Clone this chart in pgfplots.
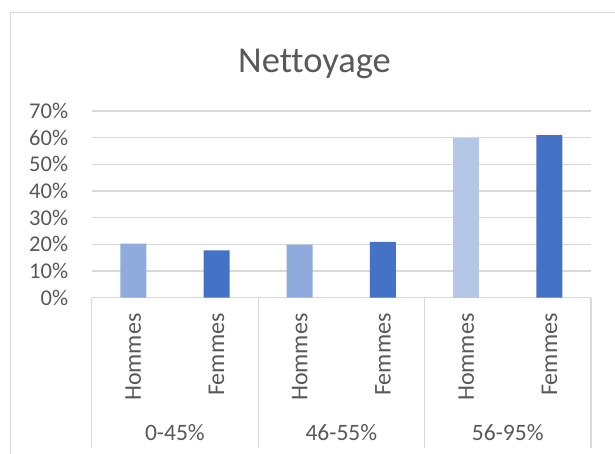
\documentclass[border=0pt]{standalone}
\usepackage{pgfplots}
\pgfplotsset{compat=1.18}
\usepackage{fontspec}
\setmainfont[Ligatures=NoCommon]{Carlito}
\definecolor{txt}{HTML}{595959}
\definecolor{gridc}{HTML}{D9D9D9}
\definecolor{hom}{HTML}{8FAADC}
\definecolor{homl}{HTML}{B4C7E7}
\definecolor{fem}{HTML}{4472C4}
\begin{document}
\begin{tikzpicture}[x=1pt,y=1pt]
\useasboundingbox (0,0) rectangle (615,454);
\fill[white] (0,0) rectangle (615,454);
\draw[gridc, line width=1pt] (10,0) -- (10,441.3) -- (615,441.3);
\node[anchor=base, text=txt, font=\fontsize{36.5}{40}\selectfont, inner sep=0pt] at (314.5,381.7) {Nettoyage};
\begin{axis}[
  at={(91.7pt,156.3pt)}, anchor=south west,
  width=499.3pt, height=186.7pt, scale only axis,
  xmin=-0.5, xmax=5.5, ymin=0, ymax=70,
  axis line style={draw=none},
  major tick length=0pt,
  ymajorgrids, grid style={gridc, line width=1.2pt},
  ytick={0,10,...,70},
  yticklabels={0\%,10\%,20\%,30\%,40\%,50\%,60\%,70\%},
  xtick={0,1,2,3,4,5},
  xticklabels={Hommes,Femmes,Hommes,Femmes,Hommes,Femmes},
  tick label style={text=txt, inner sep=0pt},
  yticklabel style={font=\fontsize{22.5}{25}\selectfont, anchor=east},
  yticklabel shift=23.4pt,
  xticklabel style={font=\fontsize{24}{27}\selectfont, rotate=90, anchor=east},
  xticklabel shift=15.6pt,
  clip=false,
  ybar, bar width=26pt,
  every axis plot post/.append style={bar shift=0pt},
]
\addplot[fill=hom, draw=none] coordinates {(0,20.3) (2,19.9)};
\addplot[fill=homl, draw=none] coordinates {(4,59.9)};
\addplot[fill=fem, draw=none] coordinates {(1,17.7) (3,20.9) (5,61.0)};
\draw[gridc, line width=1.2pt] (axis cs:-0.5,0) -- ++(0pt,-150pt);
\draw[gridc, line width=1.2pt] (axis cs:1.5,0) -- ++(0pt,-150pt);
\draw[gridc, line width=1.2pt] (axis cs:3.5,0) -- ++(0pt,-150pt);
\draw[gridc, line width=1.2pt] (axis cs:5.5,0) -- ++(0pt,-150pt);
\node[text=txt, font=\fontsize{23.5}{26}\selectfont, inner sep=0pt] at (axis cs:0.5,0) [yshift=-134.8pt] {0-45\%};
\node[text=txt, font=\fontsize{23.5}{26}\selectfont, inner sep=0pt] at (axis cs:2.5,0) [yshift=-134.8pt] {46-55\%};
\node[text=txt, font=\fontsize{23.5}{26}\selectfont, inner sep=0pt] at (axis cs:4.5,0) [yshift=-134.8pt] {56-95\%};
\end{axis}
\end{tikzpicture}
\end{document}
